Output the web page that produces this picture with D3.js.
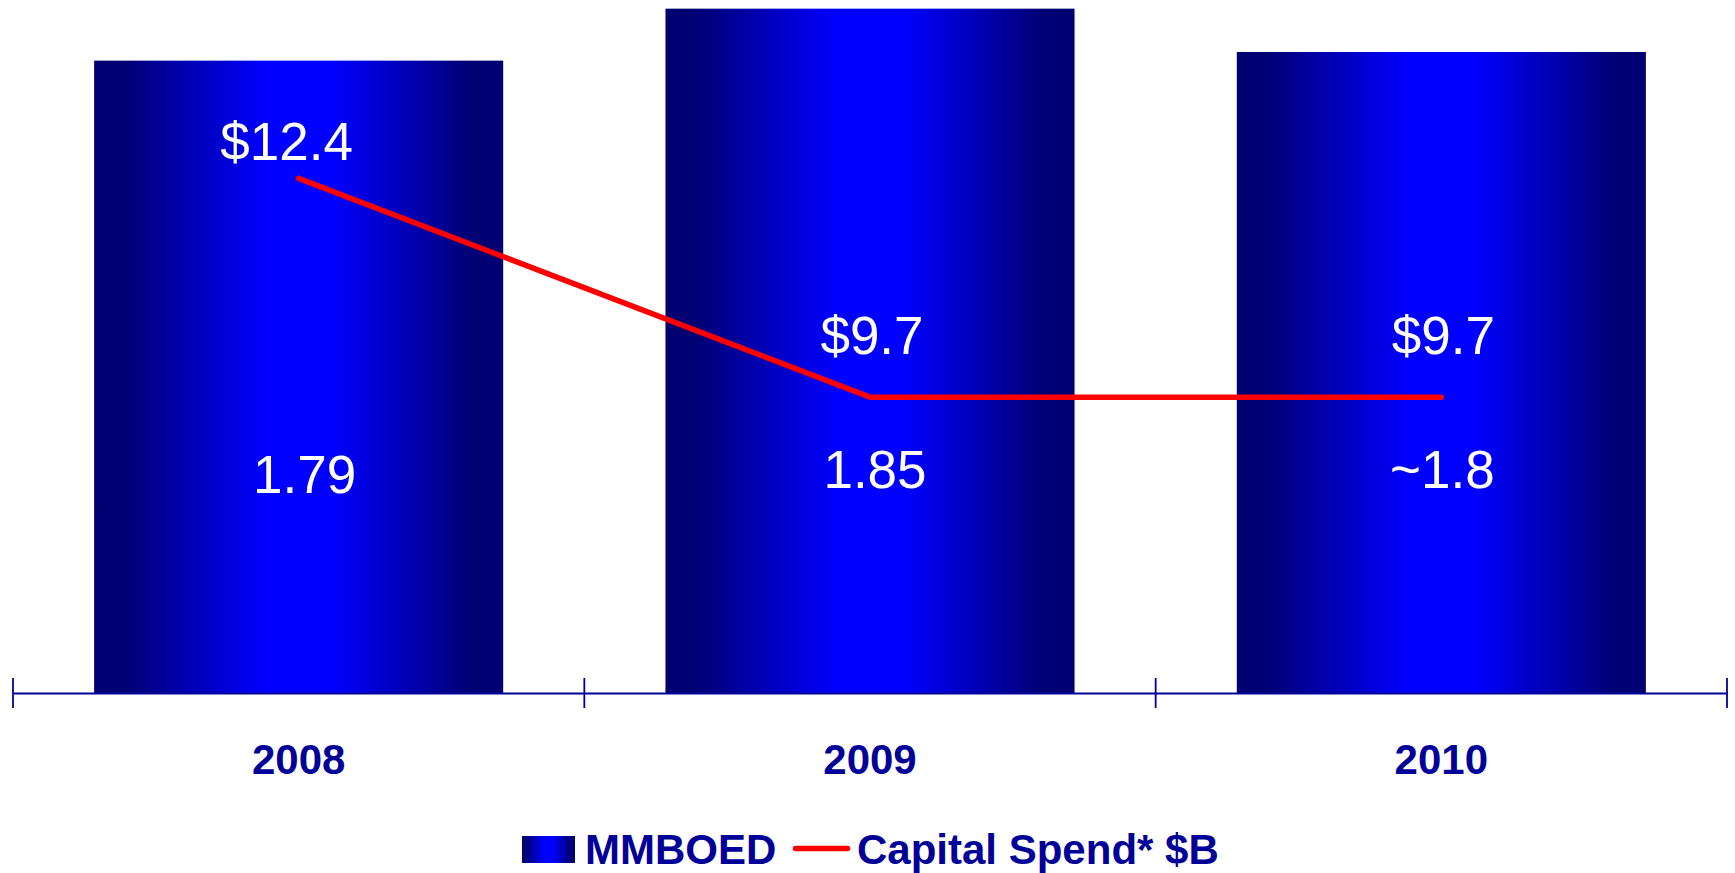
<!DOCTYPE html>
<html>
<head>
<meta charset="utf-8">
<script src="https://cdn.jsdelivr.net/npm/d3@7/dist/d3.min.js"></script>
<style>
  html, body { margin: 0; padding: 0; background: #ffffff; }
  svg { display: block; font-family: "Liberation Sans", Arial, sans-serif; }
</style>
</head>
<body>
<svg id="chart" width="1735" height="873"></svg>
<script>
// Production (MMBOED) bars and capital spend line, by year
const years = ["2008", "2009", "2010"];
const mmboed = [1.79, 1.85, 1.8];
const mmboedLabels = ["1.79", "1.85", "~1.8"];
const capitalSpend = [12.4, 9.7, 9.7];
const spendLabels = ["$12.4", "$9.7", "$9.7"];
const legendNames = ["MMBOED", "Capital Spend* $B"];

const navy = "#000099";
const svg = d3.select("#chart");

// Horizontal mirrored gradient used by bars and legend swatch
const grad = svg.append("defs").append("linearGradient")
  .attr("id", "barGrad").attr("x1", 0).attr("x2", 1).attr("y1", 0).attr("y2", 0);
[[0, "#000070"], [0.08, "#000076"], [0.42, "#0000ff"], [0.58, "#0000ff"], [0.92, "#000076"], [1, "#000070"]]
  .forEach(([o, c]) => grad.append("stop").attr("offset", o).attr("stop-color", c));

const axisY = 693;
const x = d3.scaleBand().domain(years).range([13, 1727]).padding(0);
const bw = x.bandwidth();
const barW = bw * 0.716;
const cx = d => x(d) + bw / 2;

// Primary (bars) and secondary (capital spend) value scales
const yBar = d3.scaleLinear().domain([1.06, 1.86]).range([axisY, 0]);
const ySpend = d3.scaleLinear().domain([6.05, 14.6]).range([axisY, 0]);

// Bars
svg.append("g").selectAll("rect")
  .data(years.map((y, i) => ({ year: y, v: mmboed[i] })))
  .join("rect")
  .attr("x", d => cx(d.year) - barW / 2)
  .attr("width", barW)
  .attr("y", d => yBar(d.v))
  .attr("height", d => axisY - yBar(d.v))
  .attr("fill", "url(#barGrad)");

// Bar value labels
const barLabelDx = [6, 5, 1];
const barLabelDy = [5, 0, 0];
svg.append("g").selectAll("text")
  .data(years)
  .join("text")
  .attr("x", (d, i) => cx(d) + barLabelDx[i])
  .attr("y", (d, i) => axisY - 205 + barLabelDy[i])
  .attr("text-anchor", "middle")
  .attr("font-size", 53)
  .attr("fill", "#ffffff")
  .text((d, i) => mmboedLabels[i]);

// Capital spend line
const spendPts = years.map((y, i) => [cx(y), ySpend(capitalSpend[i])]);
svg.append("path")
  .attr("d", d3.line()(spendPts))
  .attr("fill", "none")
  .attr("stroke", "#ff0000")
  .attr("stroke-width", 5.5)
  .attr("stroke-linecap", "round")
  .attr("stroke-linejoin", "round");

// Capital spend labels
const spendLabelDx = [-12, 2, 2];
const spendLabelDy = [-18, -43, -43];
svg.append("g").selectAll("text")
  .data(years)
  .join("text")
  .attr("x", (d, i) => cx(d) + spendLabelDx[i])
  .attr("y", (d, i) => ySpend(capitalSpend[i]) + spendLabelDy[i])
  .attr("text-anchor", "middle")
  .attr("font-size", 53)
  .attr("fill", "#ffffff")
  .text((d, i) => spendLabels[i]);

// Category axis with ticks at band boundaries
const axis = svg.append("g")
  .attr("transform", `translate(0,${axisY})`)
  .call(d3.axisBottom(x).tickSizeInner(0).tickSizeOuter(0).tickPadding(51));
axis.select(".domain").attr("stroke", navy).attr("stroke-width", 1.8);
axis.selectAll(".tick line").remove();
axis.selectAll(".tick text")
  .attr("font-family", "Liberation Sans, Arial, sans-serif")
  .attr("font-size", 42)
  .attr("font-weight", "bold")
  .attr("fill", navy);
const bounds = [x.range()[0]].concat(years.map(d => x(d) + bw));
axis.selectAll("line.bound")
  .data(bounds)
  .join("line")
  .attr("class", "bound")
  .attr("x1", d => d).attr("x2", d => d)
  .attr("y1", -15).attr("y2", 15)
  .attr("stroke", navy).attr("stroke-width", 1.8);

// Legend
const lg = svg.append("g");
lg.append("rect")
  .attr("x", 522).attr("y", 836).attr("width", 53).attr("height", 27)
  .attr("fill", "url(#barGrad)");
lg.append("text")
  .attr("x", 585).attr("y", 864)
  .attr("font-size", 42).attr("font-weight", "bold").attr("fill", navy)
  .text(legendNames[0]);
lg.append("line")
  .attr("x1", 795.5).attr("x2", 847.5).attr("y1", 848.5).attr("y2", 848.5)
  .attr("stroke", "#ff0000").attr("stroke-width", 5.5).attr("stroke-linecap", "round");
lg.append("text")
  .attr("x", 857).attr("y", 864)
  .attr("font-size", 42).attr("font-weight", "bold").attr("fill", navy)
  .text(legendNames[1]);
</script>
</body>
</html>
